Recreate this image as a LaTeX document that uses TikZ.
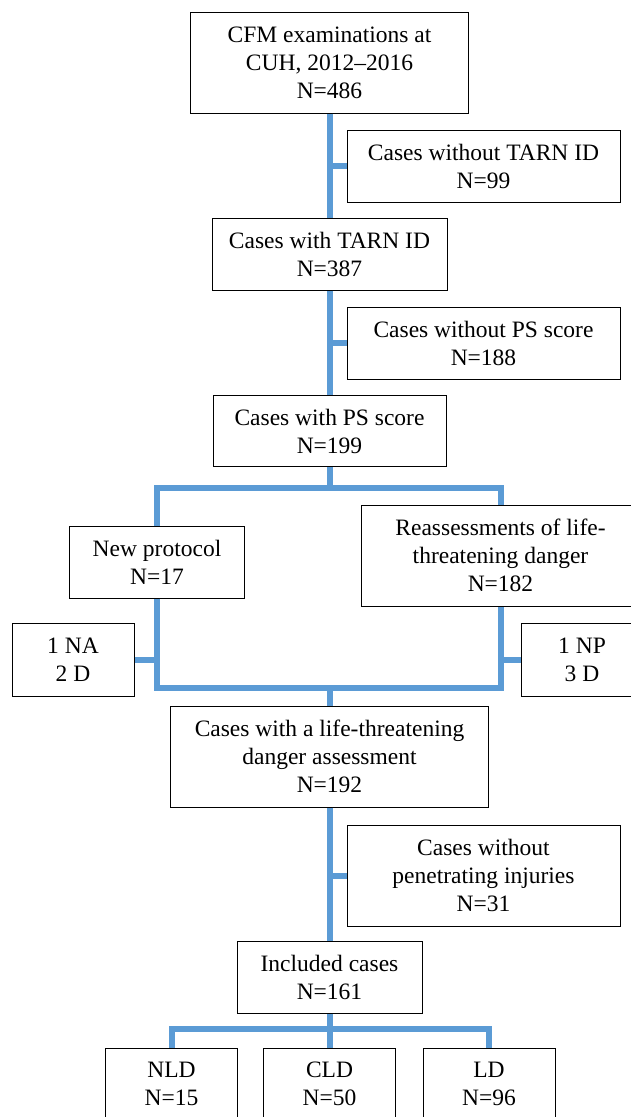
\documentclass[tikz,border=0pt]{standalone}
\usepackage{fontspec}
\setmainfont{Liberation Serif}
\definecolor{linkblue}{HTML}{5B9BD5}
\tikzset{
  box/.style={draw=black, line width=1pt, rectangle, inner sep=0pt, align=center,
    font=\fontsize{23.5}{28}\selectfont, fill=white},
  conn/.style={draw=linkblue, line width=6pt, line join=miter},
}
\begin{document}
\begin{tikzpicture}[x=1pt,y=-1pt]
\useasboundingbox (0,0) rectangle (631,1117);
\node[box, minimum width=278, minimum height=101] (top) at (329.5,62.5) {CFM examinations at\\CUH, 2012–2016\\N=486};
\node[box, minimum width=273, minimum height=72] (notarn) at (483.5,166) {Cases without TARN ID\\N=99};
\node[box, minimum width=235, minimum height=72] (tarn) at (329.5,254) {Cases with TARN ID\\N=387};
\node[box, minimum width=273, minimum height=72] (nops) at (483.5,343) {Cases without PS score\\N=188};
\node[box, minimum width=233, minimum height=71] (ps) at (329.5,431) {Cases with PS score\\N=199};
\node[box, minimum width=175, minimum height=72] (np) at (157,562) {New protocol\\N=17};
\node[box, minimum width=278, minimum height=101] (re) at (500.5,555.7) {Reassessments of life-\\threatening danger\\N=182};
\node[box, minimum width=122, minimum height=72.5] (na) at (73,659.75) {1 NA\\2 D};
\node[box, minimum width=122, minimum height=72.5] (npd) at (582,659.75) {1 NP\\3 D};
\node[box, minimum width=318.5, minimum height=101] (life) at (329.5,756.5) {Cases with a life-threatening\\danger assessment\\N=192};
\node[box, minimum width=273, minimum height=101] (pen) at (483.5,875.5) {Cases without\\penetrating injuries\\N=31};
\node[box, minimum width=185, minimum height=71.6] (inc) at (329.5,977.5) {Included cases\\N=161};
\node[box, minimum width=132, minimum height=72] (nld) at (171.5,1084.3) {NLD\\N=15};
\node[box, minimum width=132, minimum height=72] (cld) at (329.5,1084.3) {CLD\\N=50};
\node[box, minimum width=132, minimum height=72] (ld) at (489,1084.3) {LD\\N=96};
\coordinate (b1) at (329.5,488);
\coordinate (b2) at (329.5,688);
\coordinate (b3) at (329.5,1029);
\draw[conn] (top.south) -- (tarn.north);
\draw[conn] (notarn.west) -- (notarn.west -| top.south);
\draw[conn] (tarn.south) -- (ps.north);
\draw[conn] (nops.west) -- (nops.west -| tarn.south);
\draw[conn] (ps.south) -- (b1);
\draw[conn] (np.north) |- (b1) -| (re.north);
\draw[conn] (np.south) |- (b2) -| (re.south);
\draw[conn] (b2) -- (life.north);
\draw[conn] (na.east) -- (na.east -| np.south);
\draw[conn] (npd.west) -- (npd.west -| re.south);
\draw[conn] (life.south) -- (inc.north);
\draw[conn] (pen.west) -- (pen.west -| life.south);
\draw[conn] (inc.south) -- (cld.north);
\draw[conn] (nld.north) |- (b3) -| (ld.north);
\end{tikzpicture}
\end{document}
